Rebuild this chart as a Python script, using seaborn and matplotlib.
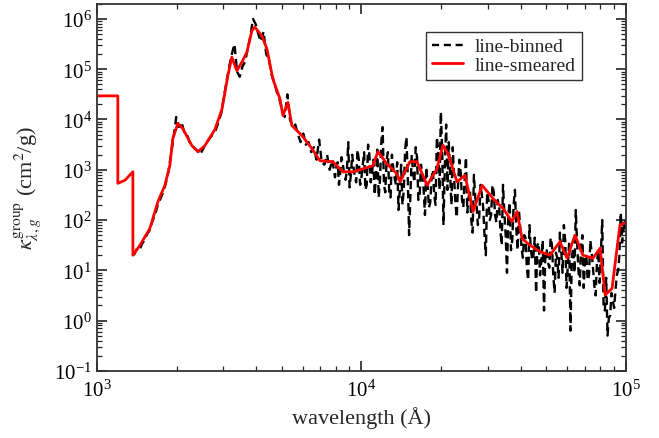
import numpy as np
import pandas as pd
import matplotlib
matplotlib.use("Agg")
import matplotlib.pyplot as plt
import seaborn as sns
from matplotlib.ticker import LogLocator, NullFormatter

# ---- data (wavelength in Angstrom, kappa as log10 exponents) ----
smeared_wavelength = [1000, 1200, 1200, 1276, 1368, 1368, 1455, 1585, 1702, 1807,
                      1888, 1936, 2023, 2113, 2286, 2410, 2559, 2793, 2972, 3126,
                      3236, 3381, 3532, 3690, 3855, 3954, 4207, 4395, 4624, 4920,
                      5047, 5272, 5458, 5957, 6501, 6966, 7798, 8511, 9290, 10139,
                      11041, 11535, 12474, 13614, 13996, 15241, 16218, 17701, 19275, 20324,
                      21232, 22961, 24604, 26424, 28576, 31405, 34277, 37068, 38726, 40458,
                      43351, 47315, 51642, 56234, 59841, 64121, 68707, 74989, 79799, 83368,
                      88512, 92470, 94842, 100000]
smeared_log10 = [4.47, 4.47, 2.73, 2.79, 2.96, 1.30, 1.50, 1.83, 2.37, 2.69,
                 3.09, 3.62, 3.92, 3.82, 3.48, 3.36, 3.48, 3.80, 4.21, 4.87,
                 5.24, 4.97, 5.14, 5.34, 5.77, 5.84, 5.66, 5.40, 4.81, 4.41,
                 4.08, 4.34, 3.88, 3.68, 3.42, 3.18, 3.16, 2.96, 2.96, 3.02,
                 3.08, 3.36, 3.12, 2.92, 2.76, 3.16, 3.16, 2.69, 3.02, 3.49,
                 3.32, 2.76, 2.89, 2.17, 2.69, 2.43, 2.23, 1.97, 2.17, 1.63,
                 1.50, 1.37, 1.30, 1.57, 1.24, 1.70, 1.30, 1.24, 1.44, 0.51,
                 0.64, 1.44, 1.90, 1.95]

binned_wavelength = [1380, 1413, 1445, 1479, 1514, 1549,
                     1585, 1622, 1660, 1698, 1738, 1778, 1820, 1862, 1905, 1950,
                     1995, 2042, 2089, 2138, 2188, 2239, 2291, 2344, 2399, 2455,
                     2512, 2570, 2630, 2692, 2754, 2818, 2884, 2951, 3020, 3090,
                     3162, 3236, 3311, 3388, 3467, 3548, 3631, 3715, 3802, 3890,
                     3981, 4074, 4169, 4266, 4365, 4467, 4571, 4677, 4786, 4898,
                     5012, 5129, 5248, 5370, 5495, 5623, 5754, 5888, 6026, 6166,
                     6310, 6457, 6607, 6761, 6918, 7079, 7244, 7413, 7586, 7762,
                     7943, 8128, 8318, 8511, 8710, 8913, 9120, 9333, 9550, 9772,
                     10000, 10233, 10471, 10715, 10965, 11220, 11482, 11749, 12023, 12303,
                     12589, 12882, 13183, 13490, 13804, 14125, 14454, 14791, 15136, 15488,
                     15849, 16218, 16596, 16982, 17378, 17783, 18197, 18621, 19055, 19498,
                     19953, 20417, 20893, 21380, 21878, 22387, 22909, 23442, 23988, 24547,
                     25119, 25704, 26303, 26915, 27542, 28184, 28840, 29512, 30200, 30903,
                     31623, 32359, 33113, 33884, 34674, 35481, 36308, 37154, 38019, 38905,
                     39811, 40738, 41687, 42658, 43652, 44668, 45709, 46774, 47863, 48978,
                     50119, 51286, 52481, 53703, 54954, 56234, 57544, 58884, 60256, 61660,
                     63096, 64565, 66069, 67608, 69183, 70795, 72444, 74131, 75858, 77625,
                     79433, 81283, 83176, 85114, 87096, 89125, 91201, 93325, 95499, 97724,
                     100000]
binned_log10 = [1.30, 1.42, 1.38, 1.52, 1.60, 1.72,
                1.80, 1.98, 2.10, 2.30, 2.42, 2.55, 2.72, 2.95, 3.30, 3.65,
                4.05, 3.85, 3.95, 3.75, 3.72, 3.55, 3.50, 3.42, 3.38, 3.30,
                3.40, 3.50, 3.58, 3.65, 3.72, 3.80, 3.95, 4.12, 4.45, 4.75,
                5.05, 5.30, 5.50, 4.95, 4.85, 5.05, 5.15, 5.40, 5.65, 6.00,
                5.90, 5.70, 5.55, 5.75, 5.30, 5.20, 4.90, 4.75, 4.55, 4.40,
                4.20, 4.05, 4.50, 4.00, 3.85, 3.90, 3.70, 3.55, 3.72, 3.50,
                3.55, 3.35, 3.45, 3.20, 3.60, 3.15, 3.10, 3.30, 3.00, 3.20,
                2.85, 3.15, 2.95, 3.10, 2.80, 3.55, 2.90, 3.05, 2.75, 3.20,
                2.85, 3.35, 2.70, 3.30, 2.95, 2.50, 3.40, 2.80, 3.85, 2.55,
                3.35, 2.45, 3.05, 2.70, 2.20, 3.10, 2.60, 3.65, 1.70, 3.30,
                2.75, 3.25, 2.50, 2.90, 2.10, 2.70, 2.35, 3.00, 2.30, 3.40,
                4.15, 1.90, 3.90, 3.55, 2.30, 2.85, 2.05, 3.20, 2.40, 2.80,
                2.15, 2.60, 1.75, 2.45, 1.90, 2.70, 2.25, 1.30, 2.40, 2.10,
                2.55, 1.95, 2.30, 1.50, 2.15, 0.95, 2.35, 1.60, 2.60, 1.40,
                1.85, 1.25, 1.65, 0.80, 1.45, 1.30, 0.55, 1.55, 1.20, 0.20,
                1.40, 1.05, 1.50, 0.55, 1.25, 1.75, 0.95, 1.60, 1.10, -0.20,
                1.45, 2.20, 1.00, 1.50, 0.65, 1.30, 0.90, 1.35, 0.70, 1.15,
                0.75, 2.00, 0.20, -0.30, 0.10, 0.40, 0.60, 1.00, 2.15, 1.80,
                1.75]

# extra, finer bins of the noisy long-wavelength part
binned_wavelength_fine = [8035, 8222, 8414, 8610, 8810, 9016, 9226, 9441, 9661, 9886,
                          10116, 10351, 10593, 10839, 11092, 11350, 11614, 11885, 12162, 12445,
                          12735, 13032, 13335, 13646, 13964, 14289, 14622, 14962, 15311, 15668,
                          16032, 16406, 16788, 17179, 17579, 17989, 18408, 18836, 19275, 19724,
                          20184, 20654, 21135, 21627, 22131, 22646, 23174, 23714, 24266, 24831,
                          25410, 26002, 26607, 27227, 27861, 28510, 29174, 29854, 30549, 31261,
                          31989, 32734, 33497, 34277, 35075, 35892, 36728, 37584, 38459, 39355,
                          40272, 41210, 42170, 43152, 44157, 45186, 46238, 47315, 48417, 49545,
                          50699, 51880, 53088, 54325, 55590, 56885, 58210, 59566, 60954, 62373,
                          63826, 65313, 66834, 68391, 69984, 71614, 73282, 74989, 76736, 78524,
                          80353, 82224, 84140, 86099, 88105, 90157, 92257, 94406, 96605, 98855]
binned_log10_fine = [3.05, 2.70, 3.25, 2.90, 3.00, 2.65, 3.30, 2.85, 3.40, 2.70,
                     3.10, 2.60, 3.50, 2.75, 3.20, 2.90, 2.45, 3.55, 2.70, 3.20,
                     2.55, 3.30, 2.85, 3.15, 2.60, 2.30, 3.40, 2.85, 2.50, 2.95,
                     3.45, 2.40, 3.10, 2.60, 3.05, 2.25, 2.85, 2.50, 3.65, 2.60,
                     3.40, 3.05, 2.60, 2.90, 3.45, 2.35, 2.70, 2.95, 2.25, 3.25,
                     2.45, 2.00, 2.90, 2.30, 2.05, 2.50, 1.70, 2.55, 2.00, 2.70,
                     2.10, 2.40, 1.80, 2.70, 1.70, 2.10, 1.40, 2.30, 1.85, 2.20,
                     1.45, 1.70, 1.05, 1.90, 1.20, 1.65, 1.50, 0.90, 1.60, 1.30,
                     1.15, 1.65, 0.90, 1.35, 0.85, 1.40, 1.90, 0.65, 1.55, 1.25,
                     0.95, 1.55, 0.70, 1.70, 1.20, 0.80, 1.60, 1.05, 0.50, 1.40,
                     1.35, 0.30, 0.85, 0.05, 0.55, 0.25, 0.90, 1.30, 1.55, 2.00]

labels = ["line-binned", "line-smeared"]

binned = pd.DataFrame({"wavelength": binned_wavelength + binned_wavelength_fine,
                       "kappa": 10.0 ** np.array(binned_log10 + binned_log10_fine)})
binned = binned.sort_values("wavelength", kind="stable").reset_index(drop=True)
smeared = pd.DataFrame({"wavelength": smeared_wavelength,
                        "kappa": 10.0 ** np.array(smeared_log10)})

# ---- style ----
sns.set_theme(style="ticks")
plt.rcParams["font.family"] = ["Liberation Serif", "DejaVu Serif"]
plt.rcParams["mathtext.fontset"] = "stix"
plt.rcParams["axes.linewidth"] = 1.3

fig = plt.figure(figsize=(6.59, 4.39), dpi=100)
ax = fig.add_axes([0.147, 0.153, 0.803, 0.836])
ax.set_xscale("log")
ax.set_yscale("log")

sns.lineplot(data=binned, x="wavelength", y="kappa", ax=ax, estimator=None,
             sort=False, color="black", lw=1.7, label=labels[0])
ax.lines[-1].set_dashes((3.5, 2))
sns.lineplot(data=smeared, x="wavelength", y="kappa", ax=ax, estimator=None,
             sort=False, color="#ff0000", lw=2.0, label=labels[1])

ax.set_xlim(1e3, 1e5)
ax.set_ylim(1e-1, 2e6)

ax.yaxis.set_major_locator(LogLocator(base=10, numticks=20))
ax.yaxis.set_minor_locator(LogLocator(base=10, subs=np.arange(2, 10), numticks=20))
ax.yaxis.set_minor_formatter(NullFormatter())
ax.xaxis.set_minor_formatter(NullFormatter())

ax.tick_params(which="both", direction="in", top=True, right=True,
               colors="#222222", labelcolor="black", labelsize=15)
ax.tick_params(which="major", length=7, width=1.2)
ax.tick_params(which="minor", length=3.5, width=0.9)
ax.tick_params(axis="x", which="major", pad=6)

ax.set_xlabel("wavelength (Å)", fontsize=16, labelpad=4)
ax.set_ylabel(r"$\kappa_{\lambda,g}^{\rm group}$ (cm$^2$/g)", fontsize=16, labelpad=8)

for s in ax.spines.values():
    s.set_color("#333333")

leg = ax.legend(loc="upper right", bbox_to_anchor=(0.935, 0.95), fontsize=14,
                frameon=True, fancybox=False, borderpad=0.3, labelspacing=0.05,
                handlelength=1.6, handletextpad=0.6)
leg.get_frame().set_edgecolor("black")
leg.get_frame().set_linewidth(1.0)
leg.legend_handles[0].set_dashes((3, 2))

fig.savefig("out.png", dpi=100)
